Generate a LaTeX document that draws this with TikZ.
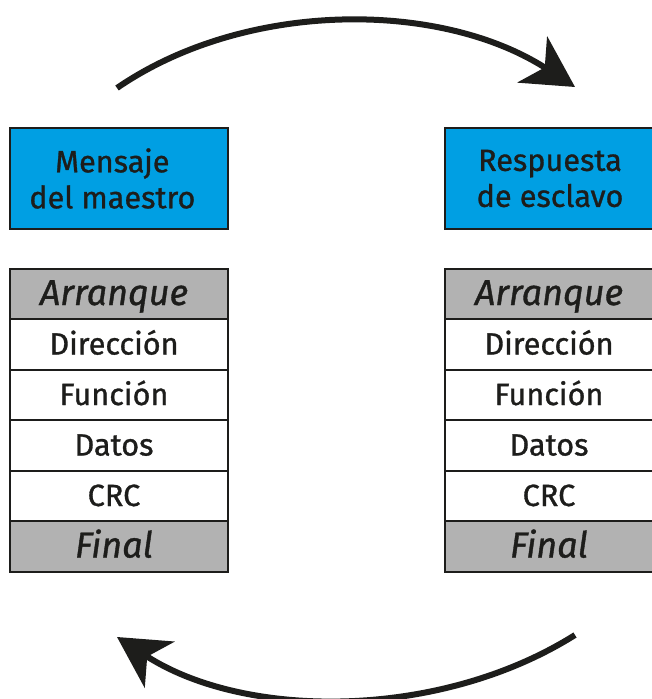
\documentclass[tikz,border=0pt]{standalone}
\usepackage{fontspec}
\setmainfont{Fira Sans}[FakeBold=1]
\usetikzlibrary{arrows.meta}
\definecolor{frameblue}{HTML}{009FE3}
\definecolor{framegray}{HTML}{B2B2B2}
\definecolor{inkdark}{HTML}{1D1D1B}
\tikzset{
  rowbox/.style={draw=inkdark, line width=1.5pt, minimum width=163.5pt, minimum height=37.9pt, inner sep=0pt, text height=16pt, text depth=1pt, font=\fontsize{23}{26}\selectfont, text=inkdark, execute at end node={\kern7.5pt}},
  endbox/.style={rowbox, fill=framegray, font=\fontsize{27}{30}\selectfont\itshape, text height=17.5pt},
  headbox/.style={draw=inkdark, line width=1.5pt, fill=frameblue, minimum width=163.5pt, minimum height=75.75pt, inner sep=0pt},
  headtext/.style={align=center, inner sep=0pt, text=inkdark, font=\fontsize{23}{27}\selectfont}
}
\begin{document}
\begin{tikzpicture}[x=0.75pt,y=0.75pt,yscale=-1,xscale=1]
\useasboundingbox (0,0) rectangle (651,699);

%Shape: Rectangle [id:master]
\node [headbox] (master) at (119,178.5) {};
\node [headtext] (masterText) at ([xshift=-5pt]master.center) {Mensaje\\del maestro};
%Shape: Rectangle [id:slave]
\node [headbox] (slave) at (554,178.5) {};
\node [headtext] (slaveText) at ([xshift=-3pt]slave.center) {Respuesta\\de esclavo};

%Shape: Frame of the master
\node [endbox] (mStart) at (119,294) {Arranque};
\node [rowbox, fill=white] (mAddr) at (119,344.5) {Dirección};
\node [rowbox, fill=white] (mFunc) at (119,395) {Función};
\node [rowbox, fill=white] (mData) at (119,445.5) {Datos};
\node [rowbox, fill=white] (mCrc) at (119,496) {CRC};
\node [endbox] (mEnd) at (119,546.5) {Final};

%Shape: Frame of the slave
\node [endbox] (sStart) at (554,294) {Arranque};
\node [rowbox, fill=white] (sAddr) at (554,344.5) {Dirección};
\node [rowbox, fill=white] (sFunc) at (554,395) {Función};
\node [rowbox, fill=white] (sData) at (554,445.5) {Datos};
\node [rowbox, fill=white] (sCrc) at (554,496) {CRC};
\node [endbox] (sEnd) at (554,546.5) {Final};

%Curve Lines [id:request]
\coordinate (reqFrom) at (117,88);
\coordinate (reqTo) at (575,87);
\draw [draw=inkdark, line width=4.5pt, -{Stealth[length=38pt, width=41pt, inset=11pt]}] (reqFrom) .. controls (245,0) and (440,0) .. (reqTo);
%Curve Lines [id:reply]
\coordinate (repFrom) at (575,635);
\coordinate (repTo) at (117,637);
\draw [draw=inkdark, line width=4.5pt, -{Stealth[length=38pt, width=41pt, inset=11pt]}] (repFrom) .. controls (440,720) and (245,720) .. (repTo);

\end{tikzpicture}
\end{document}
